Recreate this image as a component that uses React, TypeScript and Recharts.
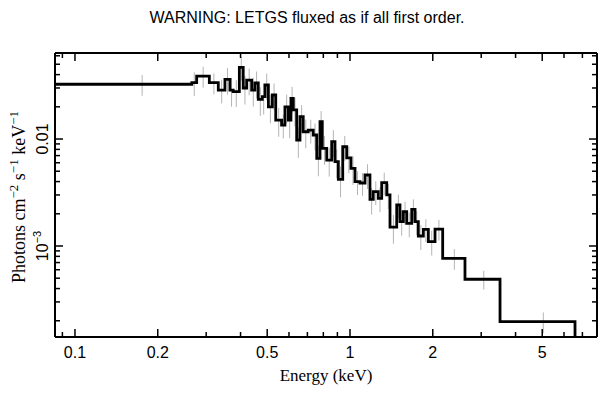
import { ComposedChart, Line, Scatter, ErrorBar, XAxis, YAxis } from 'recharts';

// bin lower edges in keV (last entry is the upper edge of the final bin)
const binEdges = [
  0.085, 0.266, 0.277, 0.308, 0.332, 0.351, 0.366, 0.376, 0.396, 0.409,
  0.421, 0.439, 0.451, 0.464, 0.48, 0.491, 0.505, 0.522, 0.537, 0.564,
  0.58, 0.597, 0.61, 0.622, 0.64, 0.658, 0.676, 0.705, 0.735, 0.757,
  0.778, 0.793, 0.823, 0.858, 0.882, 0.907, 0.941, 0.973, 1.008, 1.043,
  1.087, 1.134, 1.182, 1.215, 1.267, 1.304, 1.36, 1.398, 1.479, 1.52,
  1.563, 1.608, 1.677, 1.724, 1.772, 1.848, 1.927, 2.038, 2.173, 2.619,
  3.512, 6.58,
];

// photons cm^-2 s^-1 keV^-1 per bin
const flux = [
  0.0325, 0.0336, 0.0388, 0.0336, 0.0287, 0.0361, 0.0287, 0.0277, 0.0468, 0.03,
  0.0356, 0.0287, 0.0334, 0.0235, 0.0249, 0.032, 0.02, 0.0258, 0.015, 0.0135,
  0.02, 0.015, 0.024, 0.0187, 0.00979, 0.0162, 0.0117, 0.0121, 0.0109, 0.0066,
  0.0145, 0.00819, 0.00636, 0.00944, 0.00614, 0.0042, 0.00847, 0.00665, 0.00532, 0.00399,
  0.00388, 0.00461, 0.00273, 0.00322, 0.00279, 0.00391, 0.003, 0.0015, 0.00242, 0.00169,
  0.00209, 0.00163, 0.0022, 0.00169, 0.00124, 0.00143, 0.0011, 0.00144, 0.000767, 0.000489,
  0.000196,
];

// fractional 1-sigma errors per bin
const relErr = [
  0.22, 0.25, 0.22, 0.22, 0.25, 0.28, 0.3, 0.28, 0.25, 0.3,
  0.28, 0.3, 0.28, 0.3, 0.32, 0.28, 0.3, 0.28, 0.3, 0.25,
  0.3, 0.32, 0.28, 0.3, 0.32, 0.28, 0.3, 0.25, 0.28, 0.32,
  0.26, 0.3, 0.3, 0.28, 0.3, 0.32, 0.26, 0.28, 0.3, 0.25,
  0.24, 0.26, 0.28, 0.25, 0.26, 0.24, 0.26, 0.3, 0.25, 0.26,
  0.24, 0.26, 0.24, 0.25, 0.26, 0.24, 0.26, 0.22, 0.22, 0.2,
  0.22,
];

const xDomain = [0.0846, 7.91];
const yDomain = [0.000141, 0.0637];

const xTicks = [0.09, 0.1, 0.2, 0.3, 0.4, 0.5, 0.6, 0.7, 0.8, 0.9, 1, 2, 3, 4, 5, 6, 7];
const xLabelTicks = [0.1, 0.2, 0.5, 1, 2, 5];
const yTicks = [
  0.0002, 0.0003, 0.0004, 0.0005, 0.0006, 0.0007, 0.0008, 0.0009,
  0.001, 0.002, 0.003, 0.004, 0.005, 0.006, 0.007, 0.008, 0.009,
  0.01, 0.02, 0.03, 0.04, 0.05, 0.06,
];
const yLabelTicks = [0.001, 0.01];

const SANS = '"Liberation Sans", Arial, Helvetica, sans-serif';
const SERIF = '"Liberation Serif", "Times New Roman", serif';

const stepData = binEdges.map((e, i) => ({ x: e, y: i < flux.length ? flux[i] : flux[flux.length - 1] }));
stepData.push({ x: binEdges[binEdges.length - 1], y: yDomain[0] });

const errData = flux.map((f, i) => ({
  x: (binEdges[i] + binEdges[i + 1]) / 2,
  y: f,
  err: f * relErr[i],
}));

const tickLen = (major: boolean) => (major ? 8 : 5);

const BottomTick = (props: any) => {
  const { x, y, payload } = props;
  const major = xLabelTicks.includes(payload.value);
  return (
    <g>
      <line x1={x} y1={y} x2={x} y2={y - tickLen(major)} stroke="#000" strokeWidth={1.5} />
      {major && (
        <text x={x} y={y + 21} textAnchor="middle" fontSize={16} fontFamily={SANS} fill="#000">
          {payload.value}
        </text>
      )}
    </g>
  );
};

const TopTick = (props: any) => {
  const { x, y, payload } = props;
  const major = xLabelTicks.includes(payload.value);
  return <line x1={x} y1={y} x2={x} y2={y + tickLen(major)} stroke="#000" strokeWidth={1.5} />;
};

const LeftTick = (props: any) => {
  const { x, y, payload } = props;
  const major = yLabelTicks.includes(payload.value);
  const tx = x - 7;
  return (
    <g>
      <line x1={x} y1={y} x2={x + tickLen(major)} y2={y} stroke="#000" strokeWidth={1.5} />
      {major && (
        <text
          x={tx}
          y={y}
          transform={`rotate(-90 ${tx} ${y})`}
          textAnchor="middle"
          fontSize={16}
          fontFamily={SANS}
          fill="#000"
        >
          {payload.value === 0.01 ? (
            '0.01'
          ) : (
            <>
              <tspan>10</tspan>
              <tspan dy={-7} fontSize={11}>−3</tspan>
            </>
          )}
        </text>
      )}
    </g>
  );
};

const RightTick = (props: any) => {
  const { x, y, payload } = props;
  const major = yLabelTicks.includes(payload.value);
  return <line x1={x} y1={y} x2={x - tickLen(major)} y2={y} stroke="#000" strokeWidth={1.5} />;
};

const axisLine = { stroke: '#000', strokeWidth: 2 };

export default function App() {
  return (
    <div style={{ position: 'absolute', left: 0, top: 0, width: 609, height: 399, background: '#fff' }}>
      <ComposedChart width={609} height={399} margin={{ top: 0, right: 0, bottom: 0, left: 0 }}>
        <XAxis
          xAxisId="b"
          dataKey="x"
          type="number"
          scale="log"
          domain={xDomain}
          allowDataOverflow
          ticks={xTicks}
          interval={0}
          tick={(p: any) => <BottomTick {...p} />}
          tickLine={false}
          tickSize={0}
          tickMargin={0}
          axisLine={axisLine}
          height={62}
        />
        <XAxis
          xAxisId="t"
          orientation="top"
          dataKey="x"
          type="number"
          scale="log"
          domain={xDomain}
          allowDataOverflow
          ticks={xTicks}
          interval={0}
          tick={(p: any) => <TopTick {...p} />}
          tickLine={false}
          tickSize={0}
          tickMargin={0}
          axisLine={axisLine}
          height={53}
        />
        <YAxis
          yAxisId="l"
          dataKey="y"
          type="number"
          scale="log"
          domain={yDomain}
          allowDataOverflow
          ticks={yTicks}
          interval={0}
          tick={(p: any) => <LeftTick {...p} />}
          tickLine={false}
          tickSize={0}
          tickMargin={0}
          axisLine={axisLine}
          width={55}
        />
        <YAxis
          yAxisId="r"
          orientation="right"
          dataKey="y"
          type="number"
          scale="log"
          domain={yDomain}
          allowDataOverflow
          ticks={yTicks}
          interval={0}
          tick={(p: any) => <RightTick {...p} />}
          tickLine={false}
          tickSize={0}
          tickMargin={0}
          axisLine={axisLine}
          width={12}
        />
        <Scatter
          data={errData}
          xAxisId="t"
          yAxisId="r"
          dataKey="y"
          shape={() => <g />}
          isAnimationActive={false}
        >
          <ErrorBar dataKey="err" direction="y" width={0} stroke="#b4b4b4" strokeWidth={1} isAnimationActive={false} />
        </Scatter>
        <Line
          data={stepData}
          xAxisId="b"
          yAxisId="l"
          dataKey="y"
          type="stepAfter"
          stroke="#000"
          strokeWidth={2.8}
          dot={false}
          activeDot={false}
          isAnimationActive={false}
        />
      </ComposedChart>
      <svg
        width={609}
        height={399}
        style={{ position: 'absolute', left: 0, top: 0, pointerEvents: 'none' }}
      >
        <text x={307} y={23} textAnchor="middle" fontSize={16} fontFamily={SANS} fill="#000">
          WARNING: LETGS fluxed as if all first order.
        </text>
        <text x={326} y={381} textAnchor="middle" fontSize={17} fontFamily={SERIF} fill="#000">
          Energy (keV)
        </text>
        <text
          x={25}
          y={197}
          transform="rotate(-90 25 197)"
          textAnchor="middle"
          fontSize={18}
          fontFamily={SERIF}
          fill="#000"
        >
          <tspan>Photons cm</tspan>
          <tspan dy={-7} fontSize={13}>−2</tspan>
          <tspan dy={7}> s</tspan>
          <tspan dy={-7} fontSize={13}>−1</tspan>
          <tspan dy={7}> keV</tspan>
          <tspan dy={-7} fontSize={13}>−1</tspan>
        </text>
      </svg>
    </div>
  );
}
